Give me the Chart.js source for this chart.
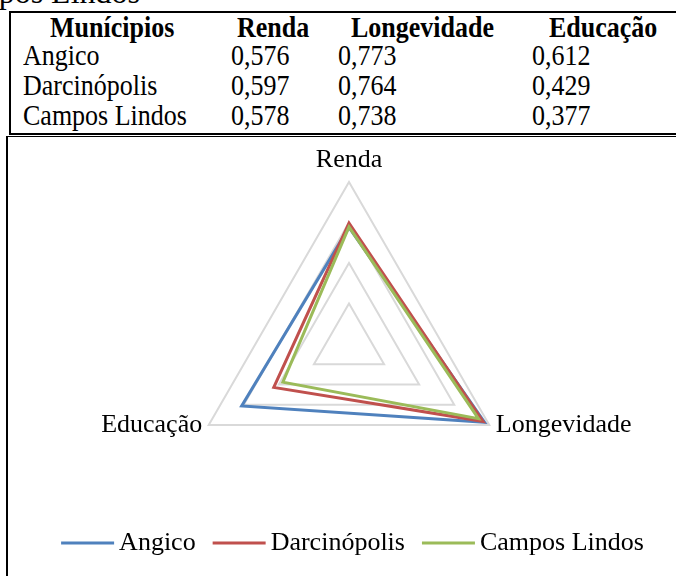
<!DOCTYPE html>
<html>
<head>
<meta charset="utf-8">
<script src="https://cdn.jsdelivr.net/npm/chart.js@4.4.1/dist/chart.umd.min.js"></script>
<style>
  html, body { margin:0; padding:0; background:#fff; overflow:hidden; }
  body { width:676px; height:576px; position:relative; font-family:"Liberation Serif","Times New Roman",serif; color:#000; }
  .t { position:absolute; font-size:26px; line-height:30px; white-space:nowrap; transform:scaleY(1.1); transform-origin:0 24px; }
  .b { font-weight:bold; }
  #tablebox { position:absolute; left:9px; top:11px; width:720px; height:120px; border:2px solid #000; box-sizing:content-box; }
  #chartbox { position:absolute; left:6px; top:136px; width:720px; height:500px; border-left:2px solid #000; border-top:1px solid #000; }
  #clip { position:absolute; right:536px; top:-26px; font-size:32px; line-height:36px; white-space:nowrap; }
  canvas { position:absolute; left:0; top:0; }
</style>
</head>
<body>
<div id="clip">Campos Lindos</div>
<div id="tablebox"></div>
<div id="chartbox"></div>
<div id="table"></div>
<canvas id="c" width="676" height="576"></canvas>
<script>
const categories = ['Renda', 'Longevidade', 'Educação'];
const seriesNames = ['Angico', 'Darcinópolis', 'Campos Lindos'];
const angico = [0.576, 0.773, 0.612];
const darcinopolis = [0.597, 0.764, 0.429];
const camposLindos = [0.578, 0.738, 0.377];
const tableHeader = ['Munícipios', 'Renda', 'Longevidade', 'Educação'];
const seriesColors = ['#4F81BD', '#C0504D', '#9BBB59'];
const allSeries = [angico, darcinopolis, camposLindos];

// Table (text from the arrays)
const table = document.getElementById('table');
const headerX = [50, 237, 351, 549];
const colX = [23, 231, 338, 532];
const baselines = [38, 66, 96, 126];
function addText(txt, x, baseline, bold) {
  const d = document.createElement('div');
  d.className = 't' + (bold ? ' b' : '');
  d.textContent = txt;
  d.style.left = x + 'px';
  d.style.top = (baseline - 24) + 'px';
  table.appendChild(d);
}
tableHeader.forEach((h, i) => addText(h, headerX[i], baselines[0], true));
seriesNames.forEach((name, r) => {
  addText(name, colX[0], baselines[r + 1], false);
  allSeries[r].forEach((v, c) => addText(v.toFixed(3).replace('.', ','), colX[c + 1], baselines[r + 1], false));
});

const legendPlugin = {
  id: 'lineLegend',
  afterDraw(chart) {
    const ctx = chart.ctx;
    const ds = chart.data.datasets;
    const lineW = 53, gap = 5, itemGap = 17, y = 543;
    ctx.save();
    ctx.font = '26px "Liberation Serif", "Times New Roman", serif';
    const widths = ds.map(d => lineW + gap + ctx.measureText(d.label).width);
    const total = widths.reduce((a, b) => a + b, 0) + itemGap * (ds.length - 1);
    let x = 352.5 - total / 2;
    ds.forEach((d, i) => {
      ctx.strokeStyle = d.borderColor;
      ctx.lineWidth = 3;
      ctx.lineCap = 'butt';
      ctx.beginPath();
      ctx.moveTo(x, y);
      ctx.lineTo(x + lineW, y);
      ctx.stroke();
      ctx.fillStyle = '#000';
      ctx.textBaseline = 'middle';
      ctx.textAlign = 'left';
      ctx.fillText(d.label, x + lineW + gap, y);
      x += widths[i] + itemGap;
    });
    ctx.restore();
  }
};

new Chart(document.getElementById('c'), {
  type: 'radar',
  data: {
    labels: categories,
    datasets: allSeries.map((vals, i) => ({
      label: seriesNames[i],
      data: vals,
      borderColor: seriesColors[i],
      backgroundColor: 'transparent',
      borderWidth: 3,
      pointRadius: 0,
      pointHoverRadius: 0,
      fill: false,
      tension: 0,
      borderJoinStyle: 'miter',
      order: 3 - i
    }))
  },
  options: {
    responsive: false,
    devicePixelRatio: 1,
    animation: false,
    layout: { padding: { left: 39, right: 17, top: 149, bottom: 59 } },
    plugins: { legend: { display: false }, tooltip: { enabled: false }, title: { display: false } },
    scales: {
      r: {
        min: 0,
        max: 0.8,
        ticks: { display: false, stepSize: 0.2 },
        grid: { color: '#D9D9D9', lineWidth: 2 },
        angleLines: { display: false },
        pointLabels: {
          color: '#000',
          font: { family: '"Liberation Serif", "Times New Roman", serif', size: 26, lineHeight: 0 },
          padding: (c) => (c.index === 0 ? 22 : 0),
          callback: (label, index) => index === 1 ? ' ' + label : (index === 2 ? label + ' ' : label)
        }
      }
    }
  },
  plugins: [legendPlugin]
});
</script>
</body>
</html>
